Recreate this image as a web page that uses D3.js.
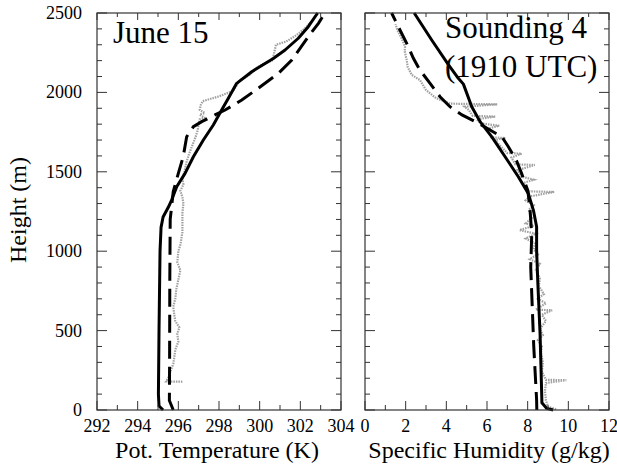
<!DOCTYPE html>
<html>
<head>
<meta charset="utf-8">
<script src="https://cdn.jsdelivr.net/npm/d3@7"></script>
</head>
<body style="margin:0">
<svg id="chart" width="617" height="469" font-family="Liberation Serif"></svg>
<script>
// ---------------- DATA ----------------
const heightTicks = [0, 500, 1000, 1500, 2000, 2500];
const tempTicks = [292, 294, 296, 298, 300, 302, 304];
const humTicks = [0, 2, 4, 6, 8, 10, 12];

// Potential temperature (K) vs height (m)
const thetaSolid = [[295.25,0],[295.05,25],[295.02,100],[295.05,500],[295.1,1000],[295.15,1150],[295.25,1215],[295.5,1275],[295.67,1322],[295.92,1406],[296.33,1490],[296.74,1595],[297.23,1700],[297.72,1795],[298.13,1889],[298.46,1963],[298.87,2057],[299.61,2130],[300.67,2214],[301.25,2267],[301.9,2341],[302.39,2414],[302.85,2500]];
const thetaDashed = [[295.75,0],[295.56,60],[295.57,300],[295.58,800],[295.6,1200],[295.75,1375],[296.0,1490],[296.24,1595],[296.41,1721],[296.74,1784],[297.15,1816],[297.8,1858],[298.3,1889],[299.12,1952],[299.93,2026],[300.92,2120],[301.58,2204],[302.39,2351],[302.89,2435],[303.21,2500]];
const thetaObs = [[296.2,178],[295.4,180],[295.5,200],[295.6,240],[295.75,290],[295.8,330],[295.85,380],[296.0,430],[295.95,480],[296.05,520],[295.85,560],[295.8,600],[295.75,650],[295.85,700],[295.9,760],[296.0,820],[296.1,880],[295.95,930],[296.0,1000],[296.1,1040],[296.15,1080],[296.2,1120],[296.2,1180],[296.2,1240],[296.25,1300],[296.2,1340],[296.1,1380],[296.25,1420],[296.2,1460],[296.3,1500],[296.4,1560],[296.55,1620],[296.7,1670],[296.85,1720],[296.95,1760],[297.0,1800],[297.05,1830],[297.3,1840],[297.05,1860],[297.3,1870],[297.05,1890],[297.1,1920],[297.2,1945],[298.0,1975],[298.7,2010],[298.85,2040],[299.0,2075],[299.5,2110],[299.8,2150],[300.2,2180],[300.6,2200],[300.7,2240],[300.8,2300],[301.3,2320],[301.8,2360],[302.2,2400],[302.5,2440]];

// Specific humidity (g/kg) vs height (m)
const humSolid = [[9.25,0],[8.94,10],[8.7,45],[8.69,100],[8.61,480],[8.5,800],[8.44,1007],[8.44,1154],[8.28,1259],[8.03,1364],[7.54,1469],[6.89,1595],[6.23,1721],[5.66,1816],[5.25,1910],[4.84,2052],[4.59,2089],[4.1,2175],[3.28,2330],[2.42,2500]];
const humDashed = [[8.45,0],[8.44,63],[8.3,400],[8.15,900],[8.2,1100],[8.15,1200],[8.1,1290],[8.0,1385],[7.7,1490],[7.45,1570],[7.05,1658],[6.74,1719],[5.9,1782],[5.56,1807],[4.77,1858],[4.18,1910],[3.69,1973],[3.2,2057],[2.7,2141],[2.38,2215],[2.05,2309],[1.72,2393],[1.31,2500]];
const humObs = [[9.4,5],[9.0,20],[8.9,60],[8.85,120],[8.9,170],[9.9,188],[8.9,190],[8.7,240],[8.75,300],[8.65,360],[8.7,400],[8.5,440],[8.75,470],[8.6,510],[8.9,560],[8.7,600],[9.2,628],[8.4,632],[8.9,672],[8.5,700],[8.8,730],[8.55,780],[8.6,830],[8.4,880],[8.6,920],[8.1,950],[8.5,980],[8.3,1010],[8.35,1050],[7.9,1080],[8.4,1110],[7.6,1133],[8.3,1160],[7.9,1175],[8.2,1210],[8.05,1260],[8.3,1290],[7.9,1320],[8.1,1345],[9.3,1373],[8.0,1377],[7.8,1430],[8.3,1450],[7.7,1470],[7.5,1510],[8.35,1543],[7.4,1547],[7.2,1590],[7.7,1614],[7.0,1618],[6.6,1670],[6.4,1700],[6.9,1713],[6.2,1717],[6.0,1770],[6.6,1790],[5.7,1805],[5.5,1830],[6.4,1848],[5.3,1852],[5.1,1890],[4.9,1910],[6.5,1925],[4.2,1929],[3.5,1963],[3.0,2015],[2.7,2078],[2.3,2110],[2.1,2160],[2.05,2204],[1.95,2260],[1.97,2288],[1.8,2340],[1.6,2390],[1.5,2430]];

// ---------------- DRAW ----------------
const svg = d3.select("#chart");
const yTop = 13, yBot = 410;
const y = d3.scaleLinear().domain([0, 2500]).range([yBot, yTop]);
const xT = d3.scaleLinear().domain([292, 304]).range([97, 341]);
const xQ = d3.scaleLinear().domain([0, 12]).range([365, 609]);

function txt(sel, size) {
  return sel.attr("font-family", "Liberation Serif").attr("font-size", size);
}

// lines first (text on top like the reference labels)
function drawLines(x, obs, solid, dashed) {
  const line = d3.line().x(d => x(d[0])).y(d => y(d[1]));
  svg.append("path").attr("d", line(obs)).attr("fill", "none")
    .attr("stroke", "#a0a0a0").attr("stroke-width", 2.2).attr("stroke-dasharray", "1.5,1");
  svg.append("path").attr("d", line(dashed)).attr("fill", "none")
    .attr("stroke", "#000").attr("stroke-width", 3).attr("stroke-dasharray", "18,8");
  svg.append("path").attr("d", line(solid)).attr("fill", "none")
    .attr("stroke", "#000").attr("stroke-width", 3).attr("stroke-linejoin", "round");
}
drawLines(xT, thetaObs, thetaSolid, thetaDashed);
drawLines(xQ, humObs, humSolid, humDashed);

function panel(x, xMajorStep, xMinorStep, xTickVals) {
  const [x0, x1] = x.range();
  const d = x.domain();
  const xt = d3.range(d[0], d[1] + 1e-9, xMinorStep);
  xt.forEach(v => {
    const major = Math.abs((v - d[0]) / xMajorStep - Math.round((v - d[0]) / xMajorStep)) < 1e-6;
    const lenB = major ? 9 : 5, lenT = major ? 7 : 4;
    svg.append("line").attr("x1", x(v)).attr("x2", x(v)).attr("y1", yBot).attr("y2", yBot - lenB)
      .attr("stroke", "#333").attr("stroke-width", 1);
    svg.append("line").attr("x1", x(v)).attr("x2", x(v)).attr("y1", yTop).attr("y2", yTop + lenT)
      .attr("stroke", "#333").attr("stroke-width", 1);
  });
  d3.range(0, 2501, 100).forEach(v => {
    const major = v % 500 === 0;
    const len = major ? 10 : 5;
    svg.append("line").attr("x1", x0).attr("x2", x0 + len).attr("y1", y(v)).attr("y2", y(v))
      .attr("stroke", "#333").attr("stroke-width", 1);
    svg.append("line").attr("x1", x1).attr("x2", x1 - len).attr("y1", y(v)).attr("y2", y(v))
      .attr("stroke", "#333").attr("stroke-width", 1);
  });
  svg.append("rect").attr("x", x0).attr("y", yTop).attr("width", x1 - x0).attr("height", yBot - yTop)
    .attr("fill", "none").attr("stroke", "#333").attr("stroke-width", 1.2);
  xTickVals.forEach(v => {
    txt(svg.append("text").attr("x", x(v)).attr("y", 432).attr("text-anchor", "middle"), 18).text(String(v));
  });
}

panel(xT, 2, 1, tempTicks);
panel(xQ, 2, 1, humTicks);

// y tick labels
heightTicks.forEach(v => {
  txt(svg.append("text").attr("x", 82).attr("y", y(v) + 6).attr("text-anchor", "end"), 18).text(String(v));
});

// axis titles
txt(svg.append("text").attr("x", 217).attr("y", 458).attr("text-anchor", "middle"), 24).text("Pot. Temperature (K)");
txt(svg.append("text").attr("x", 489).attr("y", 458).attr("text-anchor", "middle"), 24).text("Specific Humidity (g/kg)");
txt(svg.append("text").attr("transform", "translate(26,210) rotate(-90)").attr("text-anchor", "middle"), 24).text("Height (m)");

// annotations
txt(svg.append("text").attr("x", 113).attr("y", 43), 31).text("June 15");
txt(svg.append("text").attr("x", 445).attr("y", 38), 31).text("Sounding 4");
txt(svg.append("text").attr("x", 445).attr("y", 77), 31).text("(1910 UTC)");
</script>
</body>
</html>
